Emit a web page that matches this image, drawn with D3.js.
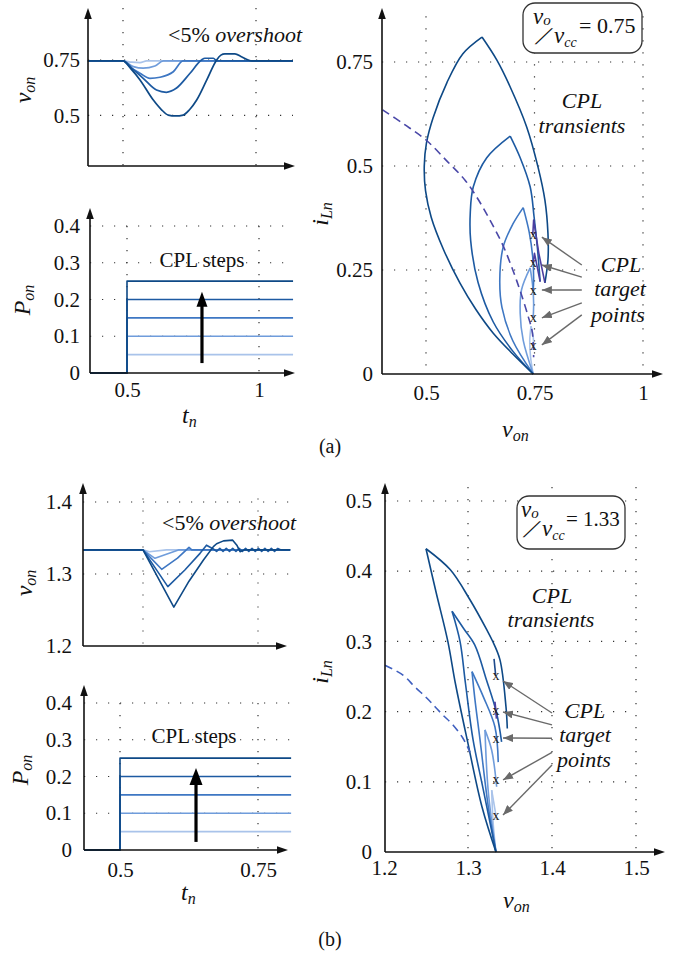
<!DOCTYPE html>
<html>
<head>
<meta charset="utf-8">
<script src="https://cdn.jsdelivr.net/npm/d3@7"></script>
<style>
  body { margin: 0; background: #fff; }
  svg { display: block; }
  svg text { font-family: "Liberation Serif", "Times New Roman", serif; fill: #111; }
  .grid { stroke: #333; stroke-width: 1.2; stroke-dasharray: 1.2 10.8; fill: none; }
</style>
</head>
<body>
<svg id="fig" width="679" height="955"></svg>
<script>
// CPL load steps (normalised power) and the colour used for each step
const powerSteps = [0.05, 0.10, 0.15, 0.20, 0.25];
const stepColors = ['#a9c3ea', '#6f9cdb', '#3e77c3', '#1d5aa2', '#0e4986'];
const tipColor = '#4b3ea0';
const boundaryColor = '#4a48a8';

// Tick values
const tickTA = [0.5, 1];
const tickVonA = [0.5, 0.75];
const tickPon = [0, 0.1, 0.2, 0.3, 0.4];
const tickVonAxisA = [0.5, 0.75, 1];
const tickIA = [0, 0.25, 0.5, 0.75];
const tickTB = [0.5, 0.75];
const tickVonB = [1.2, 1.3, 1.4];
const tickVonAxisB = [1.2, 1.3, 1.4, 1.5];
const tickIB = [0, 0.1, 0.2, 0.3, 0.4, 0.5];

// Time span of the plotted traces
const spanTA = [0.368, 1.139];
const spanTPA = [0.36, 1.129];
const spanTB = [0.37, 0.82];
const spanTPB = [0.435, 0.81];

// (a) vo/vcc = 0.75 : output voltage transients [t_n, v_on]
const vonA_p05 = [[0.368,0.746],[0.5,0.746],[0.533,0.740],[0.564,0.738],[0.589,0.746],[1.139,0.746]];
const vonA_p10 = [[0.368,0.746],[0.5,0.746],[0.539,0.720],[0.576,0.713],[0.620,0.723],[0.652,0.746],[1.139,0.746]];
const vonA_p15 = [[0.368,0.746],[0.5,0.746],[0.530,0.715],[0.564,0.690],[0.6015,0.667],[0.639,0.672],[0.689,0.697],[0.726,0.746],[1.139,0.746]];
const vonA_p20 = [[0.368,0.746],[0.5,0.746],[0.540,0.705],[0.576,0.667],[0.626,0.614],[0.663,0.604],[0.700,0.622],[0.752,0.690],[0.795,0.750],[0.808,0.758],[0.840,0.758],[0.852,0.746],[1.139,0.746]];
const vonA_p25 = [[0.368,0.746],[0.5,0.746],[0.530,0.710],[0.564,0.660],[0.614,0.569],[0.645,0.525],[0.670,0.501],[0.698,0.497],[0.726,0.501],[0.750,0.525],[0.777,0.569],[0.815,0.660],[0.852,0.750],[0.868,0.772],[0.883,0.778],[0.921,0.778],[0.945,0.765],[0.971,0.750],[0.985,0.746],[1.139,0.746]];

// (a) state-plane trajectories [v_on, i_Ln]
const phaseA_p05 = [[0.747,0],[0.741,0.04],[0.739,0.08],[0.742,0.115],[0.747,0.09],[0.748,0.067]];
const phaseA_p10 = [[0.747,0],[0.724,0.081],[0.717,0.146],[0.720,0.202],[0.740,0.255],[0.746,0.21],[0.748,0.17],[0.747,0.135]];
const phaseA_p15 = [[0.747,0],[0.700,0.08],[0.675,0.16],[0.670,0.226],[0.678,0.306],[0.700,0.36],[0.724,0.40],[0.738,0.34],[0.746,0.28],[0.748,0.23],[0.747,0.20]];
const phaseA_p20 = [[0.747,0],[0.700,0.055],[0.655,0.125],[0.620,0.22],[0.603,0.32],[0.602,0.387],[0.609,0.45],[0.640,0.52],[0.694,0.572],[0.717,0.52],[0.740,0.45],[0.749,0.378],[0.757,0.30],[0.763,0.222]];
const phaseA_p25 = [[0.747,0],[0.700,0.048],[0.655,0.098],[0.615,0.155],[0.578,0.219],[0.540,0.30],[0.512,0.377],[0.499,0.44],[0.496,0.50],[0.501,0.555],[0.516,0.615],[0.548,0.70],[0.585,0.77],[0.629,0.81],[0.663,0.755],[0.694,0.69],[0.732,0.594],[0.758,0.498],[0.774,0.418],[0.781,0.338],[0.781,0.274],[0.774,0.219]];
const tipA_p20 = [[0.763,0.222],[0.750,0.29],[0.747,0.267]];
const tipA_p25 = [[0.774,0.219],[0.760,0.29],[0.748,0.37],[0.746,0.334]];
const boundaryA = [[0.4,0.635],[0.45,0.60],[0.5,0.5625],[0.55,0.51],[0.59,0.466],[0.62,0.42],[0.65,0.365],[0.677,0.31],[0.70,0.25],[0.717,0.20],[0.735,0.14],[0.745,0.10],[0.748,0.04]];
const targetsA = [0.067, 0.135, 0.2, 0.267, 0.335];
const targetVA = 0.747;

// (b) vo/vcc = 1.33 : output voltage transients [t_n, v_on]
const vonB_p05 = [[0.37,1.3335],[0.5,1.3335],[0.5137,1.331],[0.551,1.3335],[0.82,1.3335]];
const vonB_p10 = [[0.37,1.3335],[0.5,1.3335],[0.526,1.3218],[0.577,1.3335],[0.82,1.3335]];
const vonB_p15 = [[0.37,1.3335],[0.5,1.3335],[0.5406,1.3065],[0.575,1.322],[0.600,1.337],[0.606,1.3335],[0.82,1.3335]];
const vonB_p20 = [[0.37,1.3335],[0.5,1.3335],[0.554,1.2824],[0.591,1.3056],[0.624,1.3287],[0.638,1.340],[0.653,1.3347],
  [0.660,1.3315],[0.667,1.3355],[0.674,1.3315],[0.681,1.3355],[0.688,1.3315],[0.695,1.3355],[0.702,1.3315],[0.709,1.3355],
  [0.716,1.3315],[0.723,1.3355],[0.730,1.3315],[0.737,1.3355],[0.744,1.3315],[0.751,1.3355],[0.758,1.3315],[0.765,1.3355],
  [0.772,1.3315],[0.779,1.3355],[0.786,1.3315],[0.793,1.3355],[0.800,1.3335],[0.82,1.3335]];
const vonB_p25 = [[0.37,1.3335],[0.5,1.3335],[0.567,1.254],[0.600,1.290],[0.631,1.319],[0.653,1.338],[0.660,1.342],[0.675,1.346],[0.695,1.347],[0.704,1.340],[0.711,1.331],[0.720,1.3335],[0.82,1.3335]];

// (b) state-plane trajectories [v_on, i_Ln]
const phaseB_p05 = [[1.3333,0],[1.330,0.04],[1.3282,0.088],[1.3341,0.046]];
const phaseB_p10 = [[1.3333,0],[1.324,0.088],[1.3202,0.174],[1.3282,0.145],[1.3341,0.093]];
const phaseB_p15 = [[1.3333,0],[1.3242,0.064],[1.3143,0.16],[1.308,0.22],[1.3048,0.257],[1.3183,0.221],[1.3321,0.178],[1.336,0.128]];
const phaseB_p20 = [[1.3333,0],[1.318,0.09],[1.306,0.16],[1.297,0.24],[1.2905,0.30],[1.281,0.343],[1.295,0.318],[1.308,0.295],[1.322,0.245],[1.334,0.198],[1.340,0.157]];
const phaseB_p25 = [[1.3333,0],[1.3167,0.064],[1.299,0.16],[1.285,0.24],[1.276,0.30],[1.262,0.37],[1.25,0.432],[1.279,0.402],[1.302,0.36],[1.3226,0.316],[1.3286,0.302],[1.338,0.274],[1.3452,0.207],[1.3468,0.176]];
const tipB_p20 = [[1.332,0.214],[1.334,0.19]];
const tipB_p25 = [[1.331,0.275],[1.333,0.251]];
const boundaryB = [[1.2012,0.266],[1.2226,0.252],[1.2369,0.235],[1.2512,0.219],[1.2607,0.207],[1.2702,0.195],[1.2821,0.181],[1.294,0.162],[1.3024,0.142]];
const targetsB = [0.051, 0.103, 0.161, 0.201, 0.251];
const targetVB = 1.3333;

const vonA = [vonA_p05, vonA_p10, vonA_p15, vonA_p20, vonA_p25];
const vonB = [vonB_p05, vonB_p10, vonB_p15, vonB_p20, vonB_p25];
const phaseA = [phaseA_p05, phaseA_p10, phaseA_p15, phaseA_p20, phaseA_p25];
const phaseB = [phaseB_p05, phaseB_p10, phaseB_p15, phaseB_p20, phaseB_p25];

// ---------------------------------------------------------------- scales
const xTA  = d3.scaleLinear().domain([0.5, 1]).range([123, 256]);
const yVA  = d3.scaleLinear().domain([0.5, 0.75]).range([115.3, 60]);
const xTPA = d3.scaleLinear().domain([0.5, 1]).range([127, 259]);
const yPA  = d3.scaleLinear().domain([0, 0.4]).range([373, 226]);
const xVA  = d3.scaleLinear().domain([0.5, 0.75]).range([426, 534.5]);
const yIA  = d3.scaleLinear().domain([0, 0.75]).range([374, 62]);

const xTB  = d3.scaleLinear().domain([0.5, 0.75]).range([143, 258]);
const yVB  = d3.scaleLinear().domain([1.2, 1.4]).range([646, 502]);
const xTPB = d3.scaleLinear().domain([0.5, 0.75]).range([120, 258]);
const yPB  = d3.scaleLinear().domain([0, 0.4]).range([850, 703]);
const xVB  = d3.scaleLinear().domain([1.2, 1.5]).range([384, 636]);
const yIB  = d3.scaleLinear().domain([0, 0.5]).range([852, 501]);

const svg = d3.select('#fig');
svg.append('rect').attr('width', 679).attr('height', 955).attr('fill', '#fff');

const defs = svg.append('defs');
defs.append('marker').attr('id', 'grayHead').attr('viewBox', '0 0 10 8')
  .attr('refX', 10).attr('refY', 4).attr('markerWidth', 10).attr('markerHeight', 8)
  .attr('markerUnits', 'userSpaceOnUse').attr('orient', 'auto')
  .append('path').attr('d', 'M0,0L10,4L0,8Z').attr('fill', '#6a6a6a');

// ---------------------------------------------------------------- helpers
function frame(g, ox, oy, xEnd, yTop) {
  g.append('path').attr('d', `M${ox},${oy}H${xEnd - 6}`).attr('stroke', '#111').attr('stroke-width', 1.6);
  g.append('path').attr('d', `M${ox},${oy}V${yTop + 6}`).attr('stroke', '#111').attr('stroke-width', 1.6);
  g.append('path').attr('d', `M${xEnd},${oy}l-11,-3.8v7.6z`).attr('fill', '#111');
  g.append('path').attr('d', `M${ox},${yTop}l-3.8,11h7.6z`).attr('fill', '#111');
}
function vGrid(g, x, vals, y0, y1) {
  vals.forEach(v => g.append('line').attr('class', 'grid')
    .attr('x1', x(v)).attr('x2', x(v)).attr('y1', y0).attr('y2', y1));
}
function hGrid(g, y, vals, x0, x1) {
  vals.forEach(v => g.append('line').attr('class', 'grid')
    .attr('x1', x0).attr('x2', x1).attr('y1', y(v)).attr('y2', y(v)));
}
function styleAxis(sel) {
  sel.select('.domain').remove();
  sel.attr('font-family', null).attr('font-size', 21);
  sel.selectAll('text').attr('fill', '#111');
}
function yTicks(g, scale, x0, vals, pad) {
  g.append('g').attr('transform', `translate(${x0},0)`)
    .call(d3.axisLeft(scale).tickValues(vals).tickSize(0).tickPadding(pad).tickFormat(d => String(d)))
    .call(styleAxis);
}
function xTicks(g, scale, y0, vals, pad) {
  g.append('g').attr('transform', `translate(0,${y0})`)
    .call(d3.axisBottom(scale).tickValues(vals).tickSize(0).tickPadding(pad).tickFormat(d => String(d)))
    .call(styleAxis);
}
function mathLabel(g, x, y, main, sub, rotate, anchor) {
  const t = g.append('text').attr('text-anchor', anchor || 'middle');
  if (rotate) t.attr('transform', `translate(${x},${y}) rotate(-90)`);
  else t.attr('x', x).attr('y', y);
  t.append('tspan').attr('font-style', 'italic').attr('font-size', 24).text(main);
  t.append('tspan').attr('font-style', 'italic').attr('font-size', 16).attr('dy', 4).text(sub);
}
function plainText(g, x, y, str, size, italic, anchor) {
  return g.append('text').attr('x', x).attr('y', y)
    .attr('font-size', size).attr('font-style', italic ? 'italic' : 'normal')
    .attr('text-anchor', anchor || 'middle').text(str);
}
function path(g, data, x, y, curve, color, width, dash) {
  const p = g.append('path').datum(data)
    .attr('d', d3.line().x(d => x(d[0])).y(d => y(d[1])).curve(curve))
    .attr('fill', 'none').attr('stroke', color).attr('stroke-width', width)
    .attr('stroke-linejoin', 'round');
  if (dash) p.attr('stroke-dasharray', dash);
  return p;
}
// trajectory drawn as two branches meeting at a sharp apex
function trajectory(g, data, x, y, color) {
  let k = 0;
  data.forEach((d, i) => { if (d[1] > data[k][1]) k = i; });
  const curve = d3.curveCatmullRom.alpha(0.5);
  path(g, data.slice(0, k + 1), x, y, curve, color, 1.6);
  path(g, data.slice(k), x, y, curve, color, 1.6);
}
function stepPaths(g, x, y, span) {
  powerSteps.forEach((p, i) => {
    const pts = [[span[0], 0], [0.5, 0], [0.5, p], [span[1], p]];
    path(g, pts, x, y, d3.curveLinear, stepColors[i], 1.6);
  });
}
function upArrow(g, x, yBase, yTip, headW, headL) {
  g.append('path').attr('d', `M${x},${yBase}V${yTip + headL - 1}`)
    .attr('stroke', '#000').attr('stroke-width', 3.2);
  g.append('path').attr('d', `M${x},${yTip}l${-headW / 2},${headL}h${headW}z`).attr('fill', '#000');
}
function callouts(g, tails, heads, x, y) {
  tails.forEach((t, i) => {
    g.append('line').attr('x1', x(t[0])).attr('y1', y(t[1]))
      .attr('x2', x(heads[i][0])).attr('y2', y(heads[i][1]))
      .attr('stroke', '#6a6a6a').attr('stroke-width', 1.4).attr('marker-end', 'url(#grayHead)');
  });
}
function targetMarks(g, v, list, x, y) {
  list.forEach(i => plainText(g, x(v), y(i) + 4, 'x', 14, false).style('fill', '#222'));
}
function ratioBox(g, bx, by, bw, bh, ox, oy, value, eqGap, eqSize) {
  g.append('rect').attr('x', bx).attr('y', by).attr('width', bw).attr('height', bh).attr('rx', 12)
    .attr('fill', '#fff').attr('stroke', '#333').attr('stroke-width', 1.3);
  const num = g.append('text').attr('x', ox).attr('y', oy);
  num.append('tspan').attr('font-style', 'italic').attr('font-size', 23).text('v');
  num.append('tspan').attr('font-style', 'italic').attr('font-size', 15).attr('dy', 1).text('o');
  g.append('g').attr('transform', `translate(${ox + 2},${oy + 20}) skewX(-35)`)
    .append('text').attr('font-size', 24).attr('font-weight', 'bold').text('/');
  const den = g.append('text').attr('x', ox + 21).attr('y', oy + 19);
  den.append('tspan').attr('font-style', 'italic').attr('font-size', 23).text('v');
  den.append('tspan').attr('font-style', 'italic').attr('font-size', 14).attr('dy', 4).text('cc');
  plainText(g, ox + eqGap, oy + 9, '= ' + value, eqSize, false, 'start');
}

// ================================================================ panel (a)
const gA1 = svg.append('g');
vGrid(gA1, xTA, tickTA, yVA(0.985), 166);
hGrid(gA1, yVA, tickVonA, 88, xTA(spanTA[1]));
vonA.forEach((d, i) => path(gA1, d, xTA, yVA, d3.curveMonotoneX, stepColors[i], 1.7));
frame(gA1, 88, 166, 295, 8);
yTicks(gA1, yVA, 88, tickVonA, 8);
mathLabel(gA1, 31, 90, 'v', 'on', true);
const os1 = gA1.append('text').attr('x', 168).attr('y', 42).attr('font-size', 22);
os1.append('tspan').text('<5%');
os1.append('tspan').attr('font-style', 'italic').text(' overshoot');

const gA2 = svg.append('g');
hGrid(gA2, yPA, tickPon.slice(1), 90, xTPA(spanTPA[1]));
vGrid(gA2, xTPA, tickTA, yPA(0.4), 373);
stepPaths(gA2, xTPA, yPA, spanTPA);
frame(gA2, 90, 373, 295, 208);
yTicks(gA2, yPA, 90, tickPon, 10);
xTicks(gA2, xTPA, 373, tickTA, 9);
upArrow(gA2, xTPA(0.784), yPA(0.027), yPA(0.221), 11, 15);
plainText(gA2, 202, 267, 'CPL steps', 21, false);
mathLabel(gA2, 30, 300, 'P', 'on', true);
mathLabel(gA2, 182, 423, 't', 'n', false, 'start');

const gA3 = svg.append('g');
vGrid(gA3, xVA, tickVonAxisA, yIA(0.86), 374);
hGrid(gA3, yIA, tickIA.slice(1), 382, xVA(1));
phaseA.forEach((d, i) => trajectory(gA3, d, xVA, yIA, stepColors[i]));
path(gA3, tipA_p20, xVA, yIA, d3.curveLinear, tipColor, 1.6);
path(gA3, tipA_p25, xVA, yIA, d3.curveLinear, tipColor, 1.6);
path(gA3, boundaryA, xVA, yIA, d3.curveCatmullRom, boundaryColor, 1.6, '8 5');
targetMarks(gA3, targetVA, targetsA, xVA, yIA);
frame(gA3, 382, 374, 663, 8);
yTicks(gA3, yIA, 382, tickIA, 9);
xTicks(gA3, xVA, 374, tickVonAxisA, 11);
mathLabel(gA3, 328, 214, 'i', 'Ln', true);
mathLabel(gA3, 502, 437, 'v', 'on', false, 'start');
plainText(gA3, 582, 108, 'CPL', 22, true);
plainText(gA3, 582, 133, 'transients', 22, true);
plainText(gA3, 621, 272, 'CPL', 22, true);
plainText(gA3, 620, 296, 'target', 22, true);
plainText(gA3, 618, 322, 'points', 22, true);
callouts(gA3,
  [[0.859,0.262],[0.859,0.233],[0.859,0.202],[0.859,0.171],[0.859,0.142]],
  [[0.767,0.329],[0.767,0.262],[0.767,0.202],[0.767,0.135],[0.767,0.070]], xVA, yIA);
ratioBox(svg.append('g'), 523, 3, 119, 50, 533, 24, '0.75', 46, 22);
plainText(svg, 330, 453, '(a)', 20, false);

// ================================================================ panel (b)
const gB1 = svg.append('g');
vGrid(gB1, xTB, tickTB, yVB(1.405), 646);
hGrid(gB1, yVB, tickVonB.slice(1), 83, xTB(spanTB[1]));
vonB.forEach((d, i) => path(gB1, d, xTB, yVB, d3.curveLinear, stepColors[i], 1.6));
frame(gB1, 83, 646, 287, 483);
yTicks(gB1, yVB, 83, tickVonB, 11);
mathLabel(gB1, 32, 583, 'v', 'on', true);
const os2 = gB1.append('text').attr('x', 162).attr('y', 530).attr('font-size', 22);
os2.append('tspan').text('<5%');
os2.append('tspan').attr('font-style', 'italic').text(' overshoot');

const gB2 = svg.append('g');
hGrid(gB2, yPB, tickPon.slice(1), 84, xTPB(spanTPB[1]));
vGrid(gB2, xTPB, tickTB, yPB(0.4), 850);
stepPaths(gB2, xTPB, yPB, spanTPB);
frame(gB2, 84, 850, 288, 685);
yTicks(gB2, yPB, 84, tickPon, 12);
xTicks(gB2, xTPB, 850, tickTB, 12);
upArrow(gB2, xTPB(0.6377), yPB(0.022), yPB(0.2234), 13, 17);
plainText(gB2, 194, 743, 'CPL steps', 21, false);
mathLabel(gB2, 28, 770, 'P', 'on', true);
mathLabel(gB2, 181, 900, 't', 'n', false, 'start');

const gB3 = svg.append('g');
vGrid(gB3, xVB, tickVonAxisB.slice(1), yIB(0.52), 852);
hGrid(gB3, yIB, tickIB.slice(1), 385, xVB(1.5));
phaseB.forEach((d, i) => trajectory(gB3, d, xVB, yIB, stepColors[i]));
path(gB3, tipB_p20, xVB, yIB, d3.curveLinear, tipColor, 1.8);
path(gB3, tipB_p25, xVB, yIB, d3.curveLinear, '#1d4a8c', 1.6);
path(gB3, boundaryB, xVB, yIB, d3.curveCatmullRom, '#3f5fbf', 1.6, '8 5');
targetMarks(gB3, targetVB, targetsB, xVB, yIB);
frame(gB3, 385, 852, 665, 483);
yTicks(gB3, yIB, 385, tickIB, 13);
xTicks(gB3, xVB, 852, tickVonAxisB, 8);
mathLabel(gB3, 328, 672, 'i', 'Ln', true);
mathLabel(gB3, 503, 908, 'v', 'on', false, 'start');
plainText(gB3, 552, 603, 'CPL', 22, true);
plainText(gB3, 551, 627, 'transients', 22, true);
plainText(gB3, 585, 718, 'CPL', 22, true);
plainText(gB3, 585, 742, 'target', 22, true);
plainText(gB3, 584, 767, 'points', 22, true);
callouts(gB3,
  [[1.4,0.198],[1.4,0.181],[1.4,0.162],[1.4,0.142],[1.4,0.124]],
  [[1.3417,0.2436],[1.3417,0.1994],[1.3417,0.1624],[1.3417,0.1026],[1.3417,0.0527]], xVB, yIB);
ratioBox(svg.append('g'), 517, 496, 108, 53, 521, 517, '1.33', 45, 21);
plainText(svg, 330, 946, '(b)', 20, false);
</script>
</body>
</html>
